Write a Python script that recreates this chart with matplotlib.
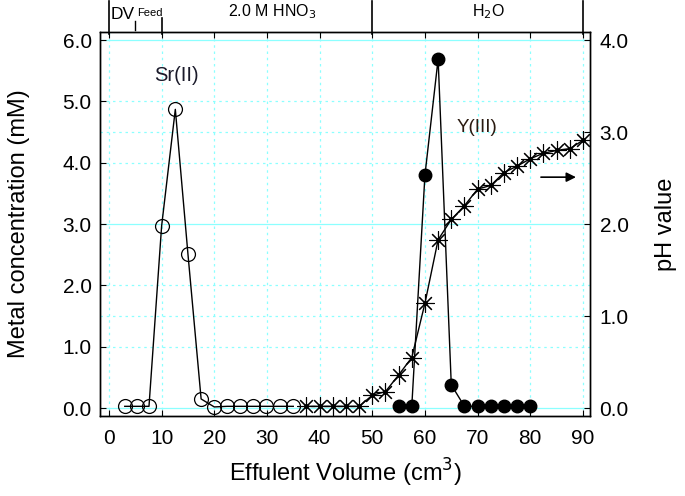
"""
Elution profile: Sr(II) / Y(III) metal concentration and pH vs effluent volume.
"""

import matplotlib.pyplot as plt
import numpy as np

plt.rcParams["font.family"] = ["Liberation Sans", "DejaVu Sans"]

# Sr(II) elution (mM)
sr_volume = [3, 5.3, 7.6, 10, 12.6, 15, 17.5, 20, 22.4, 24.9, 27.4, 29.9, 32.5, 35]
sr_conc = [0.03, 0.03, 0.03, 2.97, 4.87, 2.51, 0.15, 0.02, 0.03, 0.03, 0.03, 0.03, 0.03, 0.03]

# Y(III) elution (mM)
y_volume = [55, 57.5, 60, 62.5, 65, 67.5, 70, 72.5, 75, 77.5, 80]
y_conc = [0.03, 0.03, 3.80, 5.69, 0.38, 0.03, 0.03, 0.03, 0.03, 0.03, 0.03]

# effluent pH
ph_volume = [37.5, 40, 42.5, 45, 47.5, 50, 52.5, 55, 57.5, 60, 62.5, 65, 67.5,
             70, 72.5, 75, 77.5, 80, 82.5, 85, 87.5, 90]
ph_value = [0.02, 0.02, 0.02, 0.02, 0.02, 0.14, 0.18, 0.36, 0.55, 1.14, 1.83, 2.05,
            2.20, 2.38, 2.42, 2.56, 2.63, 2.71, 2.77, 2.80, 2.82, 2.91]

# eluent sections shown above the plot
section_edges = [0, 10, 50, 90]
section_labels = ["2.0 M HNO$_3$", "H$_2$O"]
section_label_x = [31, 72]

grid_color = "#8cffff"

fig = plt.figure(figsize=(6.85, 4.96), dpi=100)
ax = fig.add_axes([0.146, 0.161, 0.715, 0.775])
ax2 = ax.twinx()

ax.set_xlim(-1.7, 91.3)
ax.set_ylim(-0.13, 6.135)
ax2.set_ylim(-0.13 * 2 / 3, 6.135 * 2 / 3)

# grid: left axis and right axis lines, solid where both coincide
for v in [1, 2, 4, 5, 1.5, 4.5]:
    ax.axhline(v, color=grid_color, lw=0.9, ls=(0, (2, 3)), zorder=0)
for v in [0, 3, 6]:
    ax.axhline(v, color=grid_color, lw=0.9, zorder=0)
for v in np.arange(0, 91, 10):
    ax.axvline(v, color=grid_color, lw=0.9, ls=(0, (2, 3)), zorder=0)

ax.plot(sr_volume, sr_conc, "-", color="black", lw=1.0, marker="o", ms=10,
        mfc="none", mec="black", mew=0.9, zorder=3)
ax.plot(y_volume, y_conc, "-", color="black", lw=1.0, marker="o", ms=9,
        mfc="black", mec="black", zorder=3)
ax2.plot(ph_volume, ph_value, "-", color="black", lw=1.0, marker=(8, 2, 0), ms=13,
         mew=0.8, zorder=3)
ax2.plot(ph_volume, ph_value, "o", color="black", ms=2.5, zorder=4)

ax.text(12.8, 5.42, "Sr(II)", fontsize=14.5, ha="center", va="center", color="#1a1a2a")
ax.text(69.9, 4.57, "Y(III)", fontsize=13.5, ha="center", va="center", color="#2a1a10")
ax2.annotate("", xy=(89.2, 2.51), xytext=(81.5, 2.51),
             arrowprops=dict(arrowstyle="-|>", color="black", lw=1.2,
                             mutation_scale=14))

ax.set_xticks(np.arange(0, 91, 10))
ax.set_yticks(np.arange(0, 6.1, 1.0))
ax.set_yticklabels([f"{v:.1f}" for v in np.arange(0, 6.1, 1.0)])
ax2.set_yticks(np.arange(0, 4.1, 1.0))
ax2.set_yticklabels([f"{v:.1f}" for v in np.arange(0, 4.1, 1.0)])
ax.tick_params(direction="in", labelsize=15, length=4, top=True, labeltop=False)
ax.tick_params(axis="x", pad=9)
ax.tick_params(axis="y", pad=6)
ax2.tick_params(direction="in", labelsize=15, length=4, pad=7)

ax.set_xlabel("Effulent Volume (cm$^3$)", fontsize=17)
ax.set_ylabel("Metal concentration (mM)", fontsize=17)
ax2.set_ylabel("pH value", fontsize=17)
ax.xaxis.set_label_coords(0.5, -0.105)
ax.yaxis.set_label_coords(-0.143, 0.5)
ax2.yaxis.set_label_coords(1.133, 0.5)

for a in (ax, ax2):
    for s in a.spines.values():
        s.set_linewidth(1.0)

# section markers above the top axis
tr = ax.get_xaxis_transform()
for v in section_edges:
    top = 1.035 if v == 10 else 1.08
    ax.plot([v, v], [0.995, top], color="black", lw=1.2, transform=tr, clip_on=False)
ax.plot([5, 5], [1.004, 1.028], color="black", lw=1.0, transform=tr, clip_on=False)
ax.text(0.4, 1.046, "DV", fontsize=12.5, ha="left", va="center", transform=tr)
ax.text(5.3, 1.049, "Feed", fontsize=8, ha="left", va="center", transform=tr)
for lab, xc in zip(section_labels, section_label_x):
    ax.text(xc, 1.052, lab, fontsize=11.5, ha="center", va="center", transform=tr)

fig.savefig("out.png", dpi=100)
